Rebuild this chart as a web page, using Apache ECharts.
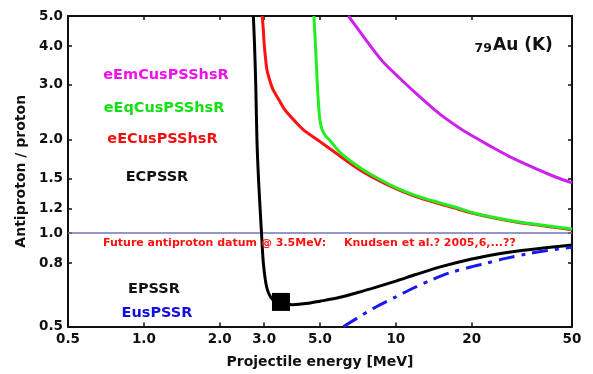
<!DOCTYPE html>
<html>
<head>
<meta charset="UTF-8">
<title>79Au (K) antiproton / proton</title>
<script src="https://cdn.jsdelivr.net/npm/echarts@6/dist/echarts.min.js"></script>
<style>
html, body { margin: 0; padding: 0; background: #fff; }
#main { width: 593px; height: 374px; }
</style>
</head>
<body>
<div id="main"></div>
<script>
// tick positions on both log axes
var xTicks = [0.5, 1, 2, 3, 5, 10, 20, 50];
var yTicks = [0.5, 0.8, 1.0, 1.2, 1.5, 2.0, 3.0, 4.0, 5.0];

// curves, [energy MeV, antiproton/proton ratio]
var eEmCusPSShsR = [[6.48,5.0],[7.2,4.45],[8.14,3.89],[9,3.52],[10.2,3.19],[12,2.82],[15,2.41],[18,2.17],[20,2.06],[23.3,1.92],[28,1.77],[36.7,1.60],[43,1.515],[50,1.45]];
var eEqCusPSShsR = [[4.73,5.0],[4.8,4.0],[4.88,3.0],[4.95,2.5],[5.0,2.3],[5.1,2.15],[5.25,2.06],[5.5,1.98],[6.0,1.82],[7.0,1.65],[8.0,1.54],[10,1.40],[12,1.32],[15,1.25],[17,1.215],[20,1.165],[23,1.135],[30,1.09],[40,1.055],[50,1.03]];
var eECusPSShsR = [[2.95,5.0],[2.98,4.5],[3.0,4.1],[3.04,3.65],[3.08,3.35],[3.16,3.1],[3.26,2.89],[3.45,2.67],[3.63,2.49],[4.0,2.28],[4.3,2.15],[5,1.97],[6,1.77],[7,1.62],[8,1.52],[10,1.39],[12,1.31],[15,1.24],[17,1.205],[20,1.16],[23,1.13],[30,1.085],[40,1.05],[50,1.025]];
var ECPSSR = [[2.72,5.0],[2.75,4.0],[2.78,3.0],[2.81,2.0],[2.85,1.5],[2.91,1.1],[2.93,1.0],[2.98,0.8],[3.07,0.67],[3.19,0.62],[3.35,0.60],[3.6,0.592],[3.9,0.588],[4.5,0.594],[5,0.603],[6,0.621],[7,0.642],[8,0.662],[10,0.70],[12,0.735],[15,0.778],[20,0.825],[25,0.855],[30,0.874],[40,0.898],[50,0.915]];
var EusPSSR = [[6.2,0.5],[7,0.531],[8.14,0.572],[10,0.623],[11.7,0.664],[14,0.709],[16.4,0.745],[20,0.779],[22.9,0.80],[27,0.827],[33,0.856],[40,0.878],[50,0.90]];
var unityLine = [[0.5,1.0],[50,1.0]];
var datum = [[3.5,0.6]];

var FONT = 'DejaVu Sans';

function fmtX(v) { return v < 10 ? Number(v).toFixed(1) : String(Math.round(v)); }
function fmtY(v) { return Number(v).toFixed(1); }

function xAxisCfg(pos, labels) {
    return {
        type: 'log', logBase: 10, min: 0.5, max: 50, position: pos,
        axisLine: { show: true, lineStyle: { color: '#111', width: 2 } },
        axisTick: { show: true, inside: true, length: 4, customValues: xTicks, lineStyle: { color: '#111', width: 1.5 } },
        axisLabel: { show: labels, customValues: xTicks, formatter: fmtX, fontFamily: FONT, fontWeight: 'bold', fontSize: 13.5, color: '#111', margin: 6 },
        splitLine: { show: false }, minorTick: { show: false }, minorSplitLine: { show: false },
        name: labels ? 'Projectile energy [MeV]' : '', nameLocation: 'middle', nameGap: 29,
        nameTextStyle: { fontFamily: FONT, fontWeight: 'bold', fontSize: 14, color: '#111' }
    };
}
function yAxisCfg(pos, labels) {
    return {
        type: 'log', logBase: 10, min: 0.5, max: 5, position: pos,
        axisLine: { show: true, lineStyle: { color: '#111', width: 2 } },
        axisTick: { show: true, inside: true, length: 4, customValues: yTicks, lineStyle: { color: '#111', width: 1.5 } },
        axisLabel: { show: labels, customValues: yTicks, formatter: fmtY, fontFamily: FONT, fontWeight: 'bold', fontSize: 13.5, color: '#111', margin: 5 },
        splitLine: { show: false }, minorTick: { show: false }, minorSplitLine: { show: false },
        name: labels ? 'Antiproton / proton' : '', nameLocation: 'middle', nameGap: 37, nameRotate: 90,
        nameTextStyle: { fontFamily: FONT, fontWeight: 'bold', fontSize: 14, color: '#111' }
    };
}

function curve(name, data, color, width, type) {
    return {
        name: name, type: 'line', data: data, smooth: 0.3, showSymbol: false, symbol: 'none',
        lineStyle: { color: color, width: width, type: type || 'solid' }, z: 3
    };
}

function label(text, x, y, color, size) {
    return {
        type: 'text', x: x, y: y, z: 10,
        style: { text: text, fill: color, font: 'bold ' + size + 'px "' + FONT + '"', textAlign: 'center', textVerticalAlign: 'middle' }
    };
}

var chart = echarts.init(document.getElementById('main'));
chart.setOption({
    animation: false,
    backgroundColor: '#fff',
    grid: { left: 68, right: 21, top: 16, bottom: 47.5, containLabel: false, outerBoundsMode: 'none' },
    xAxis: [xAxisCfg('bottom', true), xAxisCfg('top', false)],
    yAxis: [yAxisCfg('left', true), yAxisCfg('right', false)],
    series: [
        { name: 'unity', type: 'line', data: unityLine, showSymbol: false, symbol: 'none', lineStyle: { color: '#7373b8', width: 1.5 }, z: 2 },
        curve('eEmCusPSShsR', eEmCusPSShsR, '#cc22ee', 3),
        curve('eECusPSShsR', eECusPSShsR, '#ff1111', 3),
        curve('eEqCusPSShsR', eEqCusPSShsR, '#22ee22', 3),
        curve('ECPSSR', ECPSSR, '#000000', 3),
        curve('EusPSSR', EusPSSR, '#1a1aee', 3, [16, 7, 4, 7]),
        { name: 'datum', type: 'scatter', data: datum, symbol: 'rect', symbolSize: 18, itemStyle: { color: '#000', opacity: 1 }, z: 5 }
    ],
    graphic: [
        label('eEmCusPSShsR', 166, 75, '#ee11ee', 14.5),
        label('eEqCusPSShsR', 164, 108, '#11e011', 14.5),
        label('eECusPSShsR', 162.5, 139, '#ee1111', 14.5),
        label('ECPSSR', 157, 177, '#111', 14.5),
        label('EPSSR', 154, 289.5, '#111', 14.5),
        label('EusPSSR', 157, 313, '#1111dd', 14.5),
        { type: 'text', x: 103, y: 243, z: 10, style: { text: 'Future antiproton datum @ 3.5MeV:', fill: '#ff1111', font: 'bold 11px "' + FONT + '"', textAlign: 'left', textVerticalAlign: 'middle' } },
        { type: 'text', x: 344, y: 243, z: 10, style: { text: 'Knudsen et al.? 2005,6,...??', fill: '#ff1111', font: 'bold 11px "' + FONT + '"', textAlign: 'left', textVerticalAlign: 'middle' } },
        { type: 'text', x: 492, y: 49, z: 10, style: { text: '79', fill: '#111', font: 'bold 12.5px "' + FONT + '"', textAlign: 'right', textVerticalAlign: 'middle' } },
        { type: 'text', x: 493, y: 46, z: 10, style: { text: 'Au (K)', fill: '#111', font: 'bold 17px "' + FONT + '"', textAlign: 'left', textVerticalAlign: 'middle' } }
    ]
});
</script>
</body>
</html>
